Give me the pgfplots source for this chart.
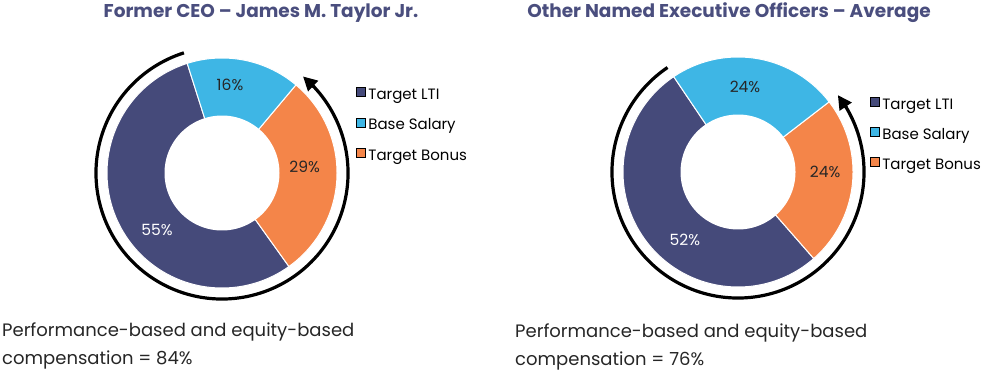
\documentclass[border=0pt]{standalone}
\usepackage{pgfplots}
\pgfplotsset{compat=1.18}
\usepackage{pgfplotstable}
\usepackage{fontspec}
\setmainfont{Poppins}
\usetikzlibrary{arrows.meta}

\definecolor{navyc}{HTML}{454A7A}
\definecolor{bluec}{HTML}{3EB6E5}
\definecolor{orangec}{HTML}{F48549}
\definecolor{titlec}{HTML}{4A4E7E}
\definecolor{textc}{HTML}{262626}

\pgfplotstableread{
component share
LTI 55
Base 16
Bonus 29
}\ceodata
\pgfplotstableread{
component share
LTI 52
Base 24
Bonus 24
}\neodata

\pgfplotsset{
  donut/.style={
    x=115bp, y=115bp, xmin=-1.2, xmax=1.2, ymin=-1.2, ymax=1.2,
    hide axis, clip=false, anchor=center,
    legend cell align=left,
    legend image code/.code={\fill[##1] (0bp,-1bp) rectangle (9bp,8bp);},
    legend style={draw=none, fill=none, inner sep=0pt, outer sep=0pt,
      anchor=north west, row sep=15bp, column sep=3bp,
      font=\fontsize{15bp}{15bp}\selectfont,
      nodes={inner sep=0pt, text height=11bp, text depth=3bp}},
  },
  slice/.style={forget plot, data cs=polar, samples=120, draw=white, line width=1bp},
  hole/.style={forget plot, data cs=polar, domain=0:360, samples=180, fill=white, draw=none},
  ring/.style={forget plot, data cs=polar, samples=150, black, line width=3.2bp},
  tip/.style={forget plot, data cs=polar, black, line width=3.2bp, -{Triangle[length=14bp,width=14bp]}},
  lab/.style={forget plot, data cs=polar, draw=none, mark=none, nodes near coords,
    point meta=explicit symbolic,
    every node near coord/.style={anchor=center, inner sep=0pt,
      font=\fontsize{15.5bp}{15.5bp}\selectfont, text=#1}},
}

\begin{document}
\begin{tikzpicture}
\useasboundingbox (0,0) rectangle (985bp,-371bp);

% ---- CEO angles from table
\pgfplotstablegetelem{0}{share}\of\ceodata \let\cLTI\pgfplotsretval
\pgfplotstablegetelem{1}{share}\of\ceodata \let\cBase\pgfplotsretval
\pgfplotstablegetelem{2}{share}\of\ceodata \let\cBonus\pgfplotsretval
\pgfmathsetmacro\cA{107.6}
\pgfmathsetmacro\cB{\cA+3.6*\cLTI}
\pgfmathsetmacro\cC{\cB+3.6*\cBonus}
\pgfmathsetmacro\cD{\cC+3.6*\cBase}
\pgfmathsetmacro\cArcEnd{\cC-5}
\pgfmathsetmacro\cTipStart{\cC-7}

% ---- NEO angles from table
\pgfplotstablegetelem{0}{share}\of\neodata \let\nLTI\pgfplotsretval
\pgfplotstablegetelem{1}{share}\of\neodata \let\nBase\pgfplotsretval
\pgfplotstablegetelem{2}{share}\of\neodata \let\nBonus\pgfplotsretval
\pgfmathsetmacro\nA{124}
\pgfmathsetmacro\nB{\nA+3.6*\nLTI}
\pgfmathsetmacro\nC{\nB+3.6*\nBonus}
\pgfmathsetmacro\nD{\nC+3.6*\nBase}
\pgfmathsetmacro\nArcEnd{\nC-5}
\pgfmathsetmacro\nTipStart{\nC-7}

\begin{axis}[donut, at={(222bp,-173bp)},
  legend style={at={(0.9855,0.810)}}]
  \addplot[slice, fill=navyc, domain=\cA:\cB] {1} -- (0,0) -- cycle;
  \addplot[slice, fill=orangec, domain=\cB:\cC] {1} -- (0,0) -- cycle;
  \addplot[slice, fill=bluec, domain=\cC:\cD] {1} -- (0,0) -- cycle;
  \addplot[hole] {0.5} -- cycle;
  \addplot[ring, domain=\cA:\cArcEnd] {1.096};
  \addplot[tip] coordinates {(\cTipStart,1.096) (\cC,1.096)};
  \addplot[lab=textc] coordinates {(84.8,0.77) [16\%] (4.1,0.72) [29\%]};
  \addplot[lab=white] coordinates {(221,0.75) [55\%]};
  \addlegendimage{fill=navyc}\addlegendentry{Target LTI}
  \addlegendimage{fill=bluec}\addlegendentry{Base Salary}
  \addlegendimage{fill=orangec}\addlegendentry{Target Bonus}
\end{axis}

\begin{axis}[donut, at={(738bp,-172bp)},
  legend style={at={(0.978,0.772)}}]
  \addplot[slice, fill=navyc, domain=\nA:\nB] {1} -- (0,0) -- cycle;
  \addplot[slice, fill=orangec, domain=\nB:\nC] {1} -- (0,0) -- cycle;
  \addplot[slice, fill=bluec, domain=\nC:\nD] {1} -- (0,0) -- cycle;
  \addplot[hole] {0.5} -- cycle;
  \addplot[ring, domain=\nA:\nArcEnd] {1.096};
  \addplot[tip] coordinates {(\nTipStart,1.096) (\nC,1.096)};
  \addplot[lab=textc] coordinates {(85.3,0.74) [24\%] (0,0.757) [24\%]};
  \addplot[lab=white] coordinates {(232,0.75) [52\%]};
  \addlegendimage{fill=navyc}\addlegendentry{Target LTI}
  \addlegendimage{fill=bluec}\addlegendentry{Base Salary}
  \addlegendimage{fill=orangec}\addlegendentry{Target Bonus}
\end{axis}

\node[anchor=base, inner sep=0pt, text=titlec, font=\bfseries\fontsize{18.5bp}{18.5bp}\selectfont]
  at (261bp,-17bp) {Former CEO – James M. Taylor Jr.};
\node[anchor=base, inner sep=0pt, text=titlec, font=\bfseries\fontsize{18.5bp}{18.5bp}\selectfont]
  at (729bp,-17bp) {Other Named Executive Officers – Average};

\begin{scope}[every node/.style={anchor=base west, inner sep=0pt, text=textc, font=\fontsize{18bp}{18bp}\selectfont}]
\node at (2bp,-336bp) {Performance-based and equity-based};
\node at (2bp,-364bp) {compensation = 84\%};
\node at (515bp,-337bp) {Performance-based and equity-based};
\node at (515bp,-365bp) {compensation = 76\%};
\end{scope}
\end{tikzpicture}
\end{document}
